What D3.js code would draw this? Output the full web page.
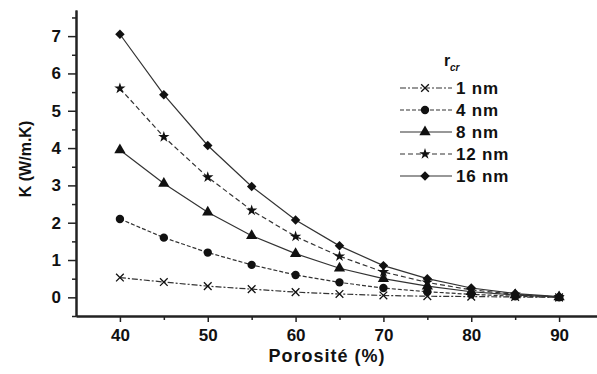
<!DOCTYPE html>
<html><head><meta charset="utf-8">
<script src="https://cdn.jsdelivr.net/npm/d3@7"></script>
<style>body{margin:0;background:#fff}svg{display:block}text{font-family:Arial,"Liberation Sans",sans-serif;fill:#111}</style>
</head><body><div id="c"></div>
<script>
const porosity = [40,45,50,55,60,65,70,75,80,85,90];
const k1  = [0.53,0.41,0.30,0.22,0.14,0.09,0.05,0.03,0.02,0.01,0.00];
const k4  = [2.10,1.60,1.20,0.87,0.60,0.40,0.25,0.15,0.08,0.03,0.00];
const k8  = [3.95,3.05,2.28,1.65,1.17,0.78,0.50,0.30,0.15,0.06,0.01];
const k12 = [5.60,4.30,3.22,2.33,1.63,1.10,0.68,0.40,0.20,0.08,0.01];
const k16 = [7.05,5.43,4.07,2.97,2.07,1.38,0.85,0.50,0.25,0.10,0.02];
const seriesNames = ["1 nm","4 nm","8 nm","12 nm","16 nm"];
const seriesValues = [k1,k4,k8,k12,k16];
const symbols = ["cross","circle","triangle","star","diamond"];
const dashes = ["6,2,2,2","4,2","none","5,3","none"];
const xTicks = [40,50,60,70,80,90];
const yTicks = [0,1,2,3,4,5,6,7];

const W=597,H=374;
const svg=d3.select("#c").append("svg").attr("width",W).attr("height",H);
const x=d3.scaleLinear().domain([35,95]).range([76,603]);
const y=d3.scaleLinear().domain([-0.5,7.7]).range([316,10]);

const xa=svg.append("g").attr("transform","translate(0,316)")
  .call(d3.axisBottom(x).tickValues(xTicks).tickSize(6).tickSizeOuter(0).tickFormat(d3.format("d")));
const xm=svg.append("g").attr("transform","translate(0,316)")
  .call(d3.axisBottom(x).tickValues([45,55,65,75,85]).tickSize(4).tickSizeOuter(0).tickFormat(""));
const ya=svg.append("g").attr("transform","translate(76,0)")
  .call(d3.axisLeft(y).tickValues(yTicks).tickSize(8).tickSizeOuter(0).tickFormat(d3.format("d")));
const ym=svg.append("g").attr("transform","translate(76,0)")
  .call(d3.axisLeft(y).tickValues([-0.5,0.5,1.5,2.5,3.5,4.5,5.5,6.5,7.5]).tickSize(4).tickSizeOuter(0).tickFormat(""));
[xa,xm,ya,ym].forEach(g=>{
  g.select(".domain").attr("stroke","#222").attr("stroke-width",2);
  g.selectAll(".tick line").attr("stroke","#222").attr("stroke-width",1.5);
  g.selectAll("text").attr("font-size",17).attr("font-weight","bold").attr("fill","#222");
});
xa.selectAll("text").attr("y",13).attr("dy","0.71em");
ya.selectAll("text").attr("x",-15);

svg.append("text").attr("x",327).attr("y",362).attr("text-anchor","middle")
  .attr("font-size",18).attr("letter-spacing",1).attr("font-weight","bold").text("Porosité (%)");
svg.append("text").attr("transform","translate(31,159) rotate(-90)").attr("text-anchor","middle")
  .attr("font-size",16).attr("font-weight","bold").text("K (W/m.K)");

function sym(i){
  const t=symbols[i];
  const map={circle:d3.symbolCircle,triangle:d3.symbolTriangle,star:d3.symbolStar,diamond:d3.symbolSquare,cross:d3.symbolX};
  const size={circle:55,triangle:55,star:40,diamond:45,cross:40}[t];
  return d3.symbol(map[t],size)();
}
function drawMark(g,i,cx,cy){
  const rot=symbols[i]==="diamond"?" rotate(45)":"";
  const p=g.append("path").attr("d",sym(i)).attr("transform",`translate(${cx},${cy})${rot}`);
  if(symbols[i]==="cross") p.attr("fill","none").attr("stroke","#111").attr("stroke-width",1.3);
  else p.attr("fill","#111");
}

const line=d3.line().x((d,j)=>x(porosity[j])).y(d=>y(d));
seriesValues.forEach((vals,i)=>{
  svg.append("path").datum(vals).attr("d",line).attr("fill","none")
    .attr("stroke","#333").attr("stroke-width",1.2).attr("stroke-dasharray",dashes[i]);
  const g=svg.append("g");
  vals.forEach((v,j)=>drawMark(g,i,x(porosity[j]),y(v)));
});

const lg=svg.append("g");
lg.append("text").attr("x",444).attr("y",66).attr("font-size",16).attr("font-weight","bold").text("r");
lg.append("text").attr("x",450).attr("y",71).attr("font-size",10).attr("font-style","italic").attr("font-weight","bold").text("cr");
seriesNames.forEach((n,i)=>{
  const yy=88+i*22;
  lg.append("line").attr("x1",400).attr("x2",452).attr("y1",yy).attr("y2",yy)
    .attr("stroke","#333").attr("stroke-width",1.2).attr("stroke-dasharray",dashes[i]==="none"?null:dashes[i]);
  drawMark(lg,i,425,yy);
  lg.append("text").attr("x",456).attr("y",yy+6).attr("font-size",17).attr("letter-spacing",0.8).attr("font-weight","bold").text(n);
});
</script></body></html>
